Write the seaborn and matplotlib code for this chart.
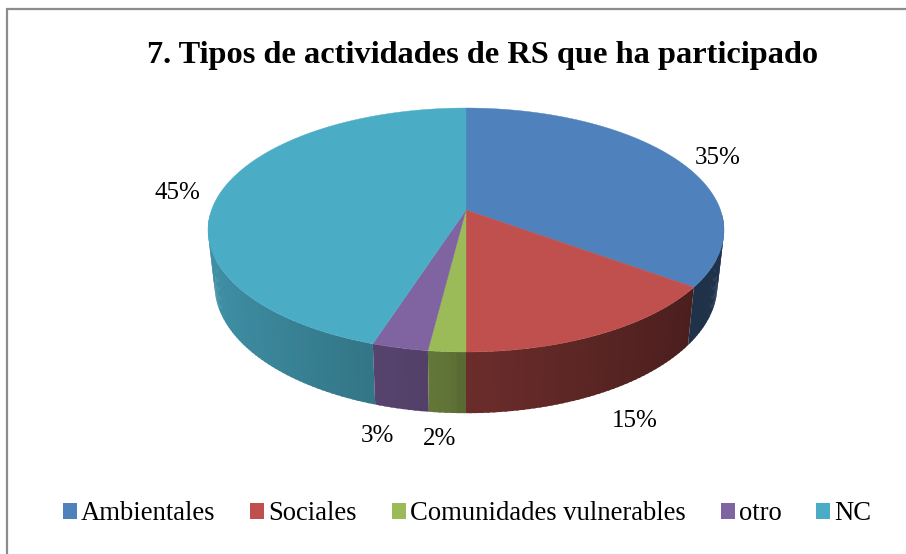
import numpy as np
import matplotlib
matplotlib.use("Agg")
import matplotlib.pyplot as plt
from matplotlib.patches import Patch, Polygon
import seaborn as sns

categories = ["Ambientales", "Sociales", "Comunidades vulnerables", "otro", "NC"]
values = [35, 15, 2, 3, 45]
colors = ["#4F81BD", "#C0504D", "#9BBB59", "#8064A2", "#4BACC6"]
title = "7. Tipos de actividades de RS que ha participado"

sns.set_theme(style="white")
plt.rcParams["font.family"] = ["Liberation Serif", "DejaVu Serif"]

W, H = 906, 554
fig = plt.figure(figsize=(W / 100, H / 100), dpi=100, facecolor="white")
ax = fig.add_axes([0, 0, 1, 1])
ax.set_xlim(0, W)
ax.set_ylim(H, 0)
ax.axis("off")

CX, K = 466, 0.164


def rim(a, A, B, cy):
    """Perspective projection of the unit circle; a = clockwise from the back."""
    u, v = np.sin(a), -np.cos(a)
    d = 1 - K * v
    return CX + A * u / d, cy + B * v / d


def top(a):
    return rim(a, 254.5, 118.7, 210)


def bottom(a):
    return rim(a, 248, 124.7, 264)


def shade(color, u):
    f = np.interp(u, [-1, -0.3, -0.05, 0, 0.8, 1], [0.85, 0.68, 0.62, 0.56, 0.39, 0.39])
    return tuple(np.array(matplotlib.colors.to_rgb(color)) * f)


edges = np.concatenate([[0], np.cumsum(values)]) / np.sum(values) * 2 * np.pi

# side wall, back to front; each band overlaps the next to hide seams
quads = []
for i, c in enumerate(colors):
    n = max(int((edges[i + 1] - edges[i]) / 0.02), 2)
    t = np.linspace(edges[i], edges[i + 1], n + 1)
    for a0, a1 in zip(t[:-1], t[1:]):
        if -np.cos((a0 + a1) / 2) > 0.05:
            quads.append((-np.cos((a0 + a1) / 2), a0, a1, min(a1 + 0.01, edges[i + 1]), c))
for _, a0, a1, a2, c in sorted(quads, key=lambda q: q[0]):
    s = np.linspace(a0, a2, 5)
    xt, yt = top(s)
    xb, yb = bottom(s[::-1])
    pts = list(zip(xt, yt)) + list(zip(xb, yb))
    ax.add_patch(Polygon(pts, closed=True, facecolor=shade(c, np.sin((a0 + a1) / 2)),
                         edgecolor="none", lw=0))

# top surface
for i, c in enumerate(colors):
    t = np.linspace(edges[i], edges[i + 1], 200)
    xs, ys = top(t)
    pts = [(CX, 210)] + list(zip(xs, ys))
    ax.add_patch(Polygon(pts, closed=True, facecolor=c, edgecolor=c, lw=0.3))

# data labels
label_xy = [(717.5, 158.5), (634.5, 421), (440, 439), (377, 435.5), (177.5, 193)]
for v, (x, y) in zip(values, label_xy):
    ax.text(x, y, f"{v}%", ha="center", va="center", fontsize=18, color="black")

ax.text(482.5, 56, title, ha="center", va="center", fontsize=23.35, fontweight="bold", color="black")

# frame
ax.plot([7, 7], [H, 9], color="#8C8C8C", lw=1.6, solid_capstyle="butt")
ax.plot([6.4, W], [9, 9], color="#8C8C8C", lw=1.6, solid_capstyle="butt")

handles = [Patch(facecolor=c, edgecolor="none") for c in colors]
leg = ax.legend(handles, categories, ncol=5, frameon=False, fontsize=19.2,
                loc="center left", bbox_to_anchor=(63 / W, 1 - 514 / H),
                handlelength=0.525, handleheight=0.525, handletextpad=0.15,
                columnspacing=1.31, borderpad=0, borderaxespad=0)
for txt in leg.get_texts():
    txt.set_color("black")

fig.savefig("out.png", dpi=100)
